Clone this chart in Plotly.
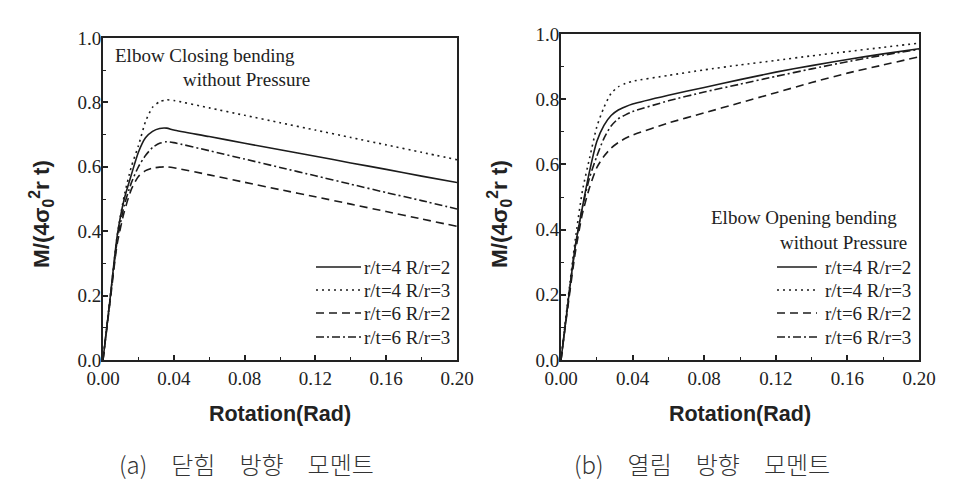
import plotly.graph_objects as go

# page body has an 8px margin: the figure is drawn at (8, 8) in the window
W, H = 948, 473
OFF = 8

# ---------------- data ----------------
x_rot = [0, 0.004, 0.008, 0.012, 0.016, 0.02, 0.024, 0.028, 0.032, 0.036, 0.04,
         0.06, 0.08, 0.10, 0.12, 0.14, 0.16, 0.18, 0.20]

series_names = ["r/t=4 R/r=2", "r/t=4 R/r=3", "r/t=6 R/r=2", "r/t=6 R/r=3"]

# (a) closing bending
closing_rt4_Rr2 = [0, 0.19, 0.385, 0.50, 0.575, 0.645, 0.69, 0.71, 0.719, 0.72, 0.714,
                   0.694, 0.673, 0.653, 0.633, 0.612, 0.592, 0.571, 0.551]
closing_rt4_Rr3 = [0, 0.19, 0.385, 0.51, 0.60, 0.665, 0.74, 0.785, 0.802, 0.808, 0.806,
                   0.783, 0.760, 0.737, 0.714, 0.691, 0.668, 0.645, 0.622]
closing_rt6_Rr2 = [0, 0.18, 0.36, 0.46, 0.53, 0.57, 0.588, 0.596, 0.599, 0.60, 0.597,
                   0.575, 0.552, 0.529, 0.507, 0.484, 0.461, 0.438, 0.415]
closing_rt6_Rr3 = [0, 0.19, 0.37, 0.48, 0.55, 0.60, 0.635, 0.66, 0.673, 0.678, 0.675,
                   0.650, 0.624, 0.598, 0.572, 0.546, 0.520, 0.495, 0.469]

# (b) opening bending
opening_rt4_Rr2 = [0, 0.18, 0.35, 0.47, 0.58, 0.67, 0.72, 0.75, 0.767, 0.777, 0.785,
                   0.812, 0.836, 0.860, 0.883, 0.903, 0.922, 0.939, 0.955]
opening_rt4_Rr3 = [0, 0.19, 0.37, 0.52, 0.62, 0.715, 0.775, 0.818, 0.838, 0.848, 0.855,
                   0.873, 0.890, 0.905, 0.919, 0.933, 0.946, 0.959, 0.972]
opening_rt6_Rr2 = [0, 0.17, 0.33, 0.45, 0.53, 0.59, 0.625, 0.65, 0.667, 0.68, 0.69,
                   0.727, 0.758, 0.789, 0.820, 0.851, 0.880, 0.905, 0.930]
opening_rt6_Rr3 = [0, 0.18, 0.35, 0.47, 0.56, 0.625, 0.68, 0.718, 0.74, 0.752, 0.762,
                   0.795, 0.822, 0.846, 0.870, 0.893, 0.915, 0.935, 0.953]

closing_series = [closing_rt4_Rr2, closing_rt4_Rr3, closing_rt6_Rr2, closing_rt6_Rr3]
opening_series = [opening_rt4_Rr2, opening_rt4_Rr3, opening_rt6_Rr2, opening_rt6_Rr3]

x_tickvals = [0.00, 0.04, 0.08, 0.12, 0.16, 0.20]
y_tickvals = [0.0, 0.2, 0.4, 0.6, 0.8, 1.0]

y_title = "M/(4σ<sub>0</sub><sup>2</sup>r t)"
x_title = "Rotation(Rad)"

# ---------------- styles ----------------
LINE_COLOR = "#1c1c1c"
dashes = ["solid", "2px,4px", "8px,5px", "8px,3px,2px,3px"]
SERIF = "Liberation Serif"
SANS = "Liberation Sans"
TXT = "#222"


def px(x):
    return (x - OFF) / W


def py(y):
    return 1 - (y - OFF) / H


fig = go.Figure()

for name, ys, d in zip(series_names, closing_series, dashes):
    fig.add_trace(go.Scatter(x=x_rot, y=ys, mode="lines", name=name, showlegend=False,
                             line=dict(color=LINE_COLOR, width=1.6, dash=d, shape="spline", smoothing=0.6),
                             xaxis="x", yaxis="y"))
for name, ys, d in zip(series_names, opening_series, dashes):
    fig.add_trace(go.Scatter(x=x_rot, y=ys, mode="lines", name=name, showlegend=False,
                             line=dict(color=LINE_COLOR, width=1.6, dash=d, shape="spline", smoothing=0.6),
                             xaxis="x2", yaxis="y2"))


def xaxis(domain, anchor):
    return dict(domain=domain, anchor=anchor, range=[0, 0.2], tickvals=x_tickvals,
                tickformat=".2f", ticks="inside", ticklen=5, tickwidth=1.5, tickcolor=TXT,
                minor=dict(dtick=0.02, tick0=0, ticks="inside", ticklen=3, tickwidth=1.2, tickcolor=TXT),
                showline=True, linewidth=2, linecolor=TXT, mirror=True, showgrid=False,
                zeroline=False, tickfont=dict(family=SERIF, size=19, color=TXT),
                title=dict(text=x_title, font=dict(family=SANS, size=21.5, color=TXT, weight="bold"),
                           standoff=18),
                automargin=False)


def yaxis(domain, anchor):
    return dict(domain=domain, anchor=anchor, range=[0, 1.0], tickvals=y_tickvals,
                tickformat=".1f", ticks="inside", ticklen=5, tickwidth=1.5, tickcolor=TXT,
                minor=dict(dtick=0.1, tick0=0, ticks="inside", ticklen=3, tickwidth=1.2, tickcolor=TXT),
                showline=True, linewidth=2, linecolor=TXT, mirror=True, showgrid=False,
                zeroline=False, tickfont=dict(family=SERIF, size=19, color=TXT),
                ticklabelstandoff=-4,
                automargin=False)


fig.update_layout(
    width=W, height=H,
    margin=dict(l=0, r=0, t=0, b=0),
    font=dict(family=SERIF, color=TXT),
    paper_bgcolor="white", plot_bgcolor="white",
    xaxis=xaxis([px(103), px(457)], "y"),
    yaxis=yaxis([py(360), py(38)], "x"),
    xaxis2=xaxis([px(561), px(919)], "y2"),
    yaxis2=yaxis([py(360), py(34)], "x2"),
)

ann = []
shapes = []

# y-axis titles (rotated)
for xx in [41, 499]:
    ann.append(dict(text=y_title, x=px(xx), y=py(214), xref="paper", yref="paper",
                    xanchor="center", yanchor="middle", textangle=-90, showarrow=False,
                    font=dict(family=SANS, size=22.5, color=TXT, weight="bold")))

panel_texts = [("Elbow Closing bending", 113, 55), ("without Pressure", 181, 79),
               ("Elbow Opening bending", 709, 218), ("without Pressure", 778, 242)]
for t, xx, yy in panel_texts:
    ann.append(dict(text=t, x=px(xx), y=py(yy), xref="paper", yref="paper",
                    xanchor="left", yanchor="middle", showarrow=False,
                    font=dict(family=SERIF, size=19, color=TXT)))

# legends (one per panel)
legend_rows = [267, 290, 313, 337]
for (x0, x1, xt) in [(316, 361, 362), (777, 817, 823)]:
    for name, d, yr in zip(series_names, dashes, legend_rows):
        shapes.append(dict(type="line", xref="paper", yref="paper",
                           x0=px(x0), x1=px(x1), y0=py(yr), y1=py(yr),
                           line=dict(color=LINE_COLOR, width=1.6, dash=d)))
        ann.append(dict(text=name, x=px(xt), y=py(yr), xref="paper", yref="paper",
                        xanchor="left", yanchor="middle", showarrow=False,
                        font=dict(family=SERIF, size=19, color=TXT)))

# captions
SP = "\u3000"
for cap, cx in [(f"(a){SP}닫힘{SP}방향{SP}모멘트", 246), (f"(b){SP}열림{SP}방향{SP}모멘트", 702)]:
    ann.append(dict(text=cap, x=px(cx), y=py(463), xref="paper", yref="paper",
                    xanchor="center", yanchor="middle", showarrow=False,
                    font=dict(family="Noto Sans CJK KR", size=24, color="#333", weight=300)))

fig.update_layout(annotations=ann, shapes=shapes)

fig.write_html("out.html")
